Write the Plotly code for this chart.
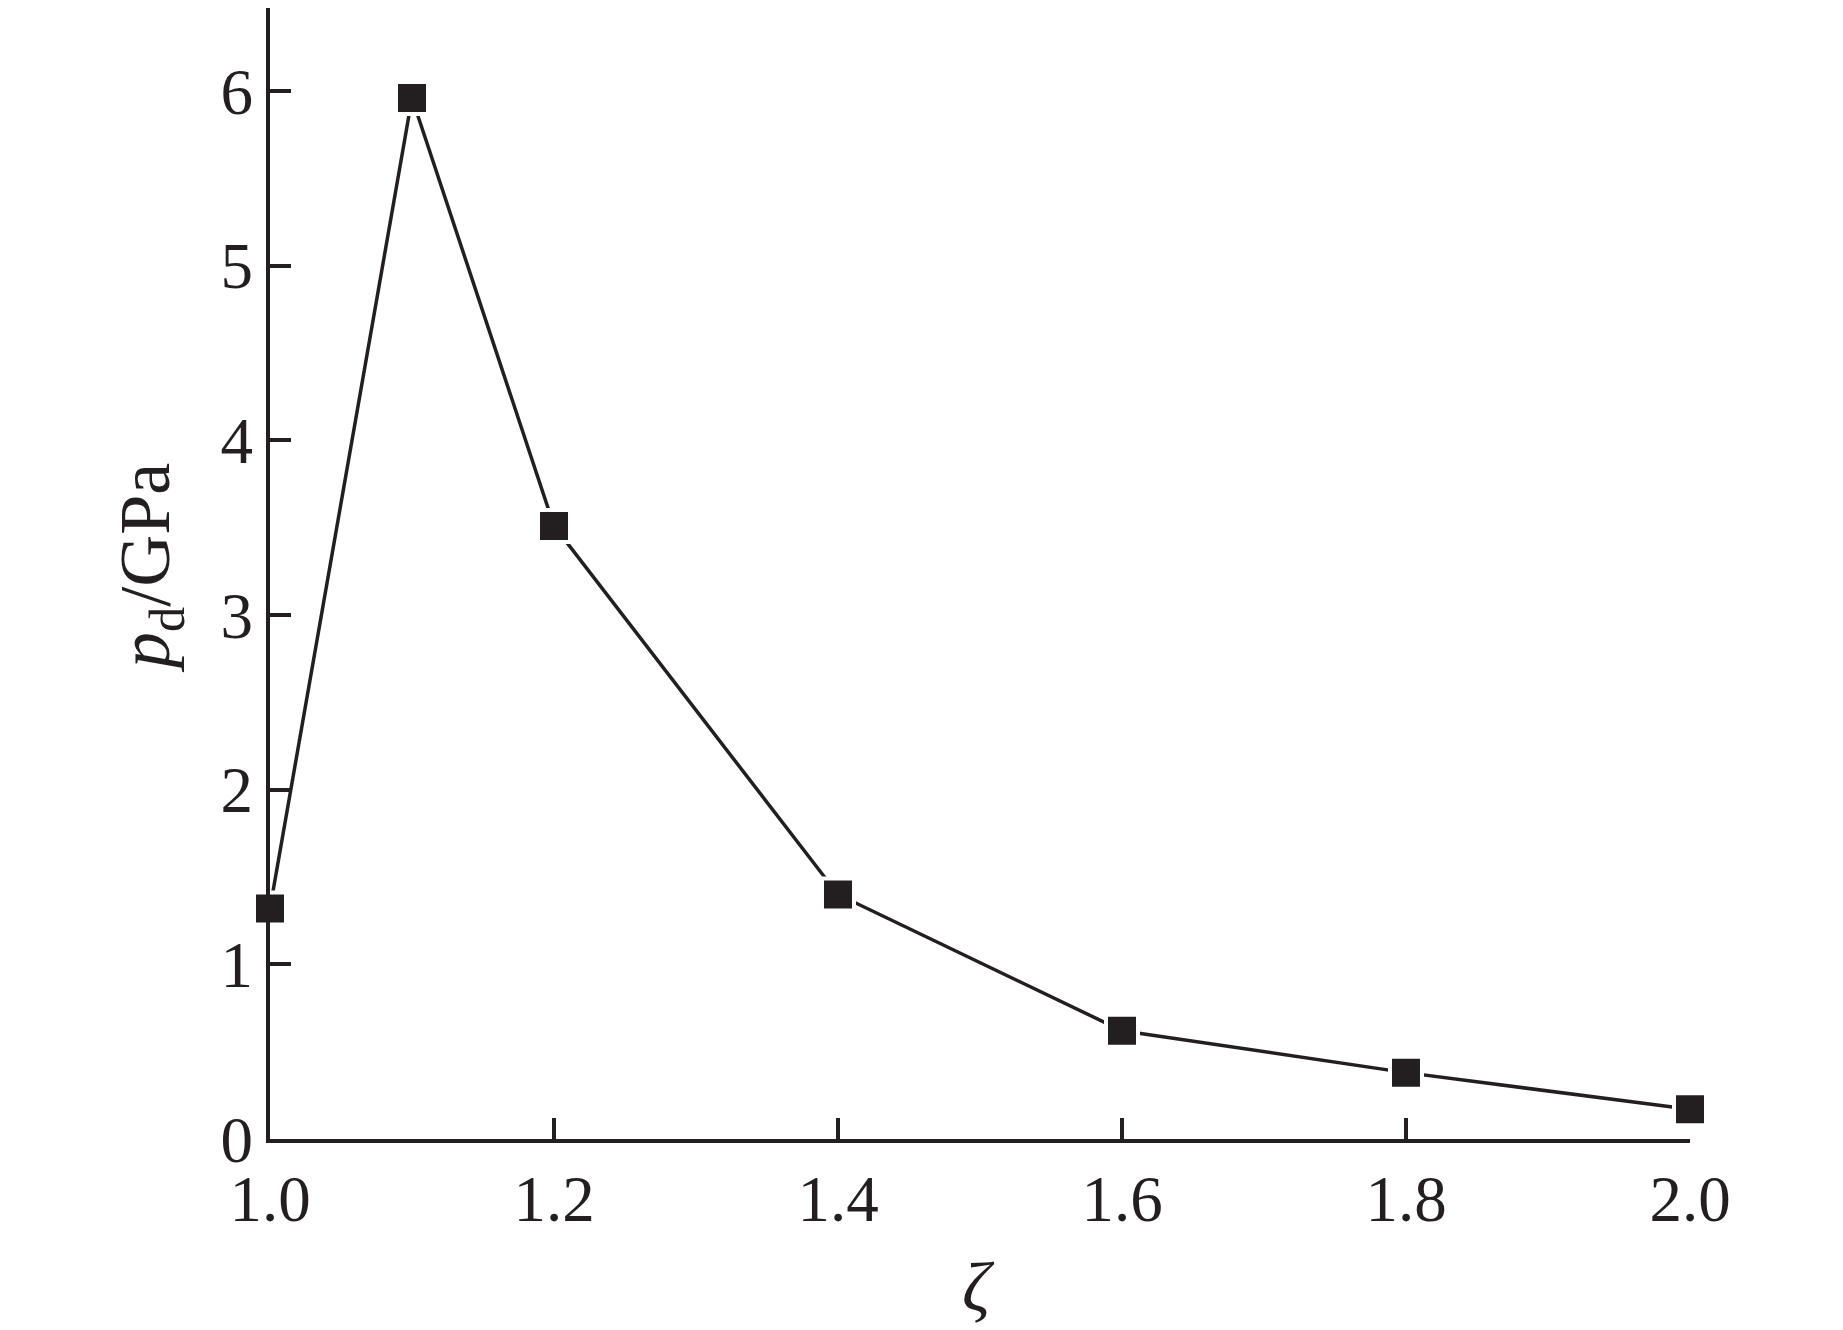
import plotly.graph_objects as go

zeta = [1.0, 1.1, 1.2, 1.4, 1.6, 1.8, 2.0]
pd_gpa = [1.32, 5.96, 3.51, 1.40, 0.62, 0.38, 0.17]

x_ticks = [1.0, 1.2, 1.4, 1.6, 1.8, 2.0]
x_ticklabels = ["1.0", "1.2", "1.4", "1.6", "1.8", "2.0"]
y_ticks = [0, 1, 2, 3, 4, 5, 6]
y_ticklabels = ["0", "1", "2", "3", "4", "5", "6"]

INK = "#231f20"
FONT = "Liberation Serif, Times New Roman, serif"

W, H = 1843, 1330
OFF = 8  # page body margin
L = 270 - OFF
T = 0
B = H - (1139 - OFF)
R = W - (1690 - OFF)

plot_w = W - L - R
plot_h = H - T - B
# y range so that value 0 sits at page y=1139 and 6 at page y=91
px_per_unit = (1139 - 91) / 6.0
y_top = (1139 - OFF - T) / px_per_unit

fig = go.Figure()
fig.add_trace(go.Scatter(
    x=zeta, y=pd_gpa, mode="lines+markers",
    line=dict(color=INK, width=3.5),
    marker=dict(symbol="square", size=32, color=INK, line=dict(color="white", width=4)),
    cliponaxis=False, showlegend=False,
))

axis_common = dict(
    showline=True, linecolor=INK, linewidth=4,
    ticks="inside", ticklen=21, tickwidth=3.5, tickcolor=INK,
    showgrid=False, zeroline=False,
    tickfont=dict(family=FONT, size=65, color=INK),
)

fig.update_layout(
    width=W, height=H,
    margin=dict(l=L, r=R, t=T, b=B, autoexpand=False),
    paper_bgcolor="white", plot_bgcolor="white",
    xaxis=dict(range=[1.0, 2.0], tickvals=x_ticks, ticktext=x_ticklabels,
               automargin=False, **axis_common),
    yaxis=dict(range=[0, y_top], tickvals=y_ticks, ticktext=y_ticklabels,
               automargin=False, **axis_common),
)


def px_to_paper_x(px):
    return (px - OFF - L) / plot_w


def px_to_paper_y(py):
    return (H - B - (py - OFF)) / plot_h


fig.add_annotation(
    text="<i>p</i><sub>d</sub>/GPa", textangle=-90,
    xref="paper", yref="paper", x=px_to_paper_x(150), y=px_to_paper_y(568),
    xanchor="center", yanchor="middle", showarrow=False,
    font=dict(family=FONT, size=72, color=INK),
)
fig.add_annotation(
    text="<i>ζ</i>",
    xref="paper", yref="paper", x=px_to_paper_x(978), y=px_to_paper_y(1287),
    xanchor="center", yanchor="middle", showarrow=False,
    font=dict(family=FONT, size=70, color=INK),
)

fig.write_html("out.html")
